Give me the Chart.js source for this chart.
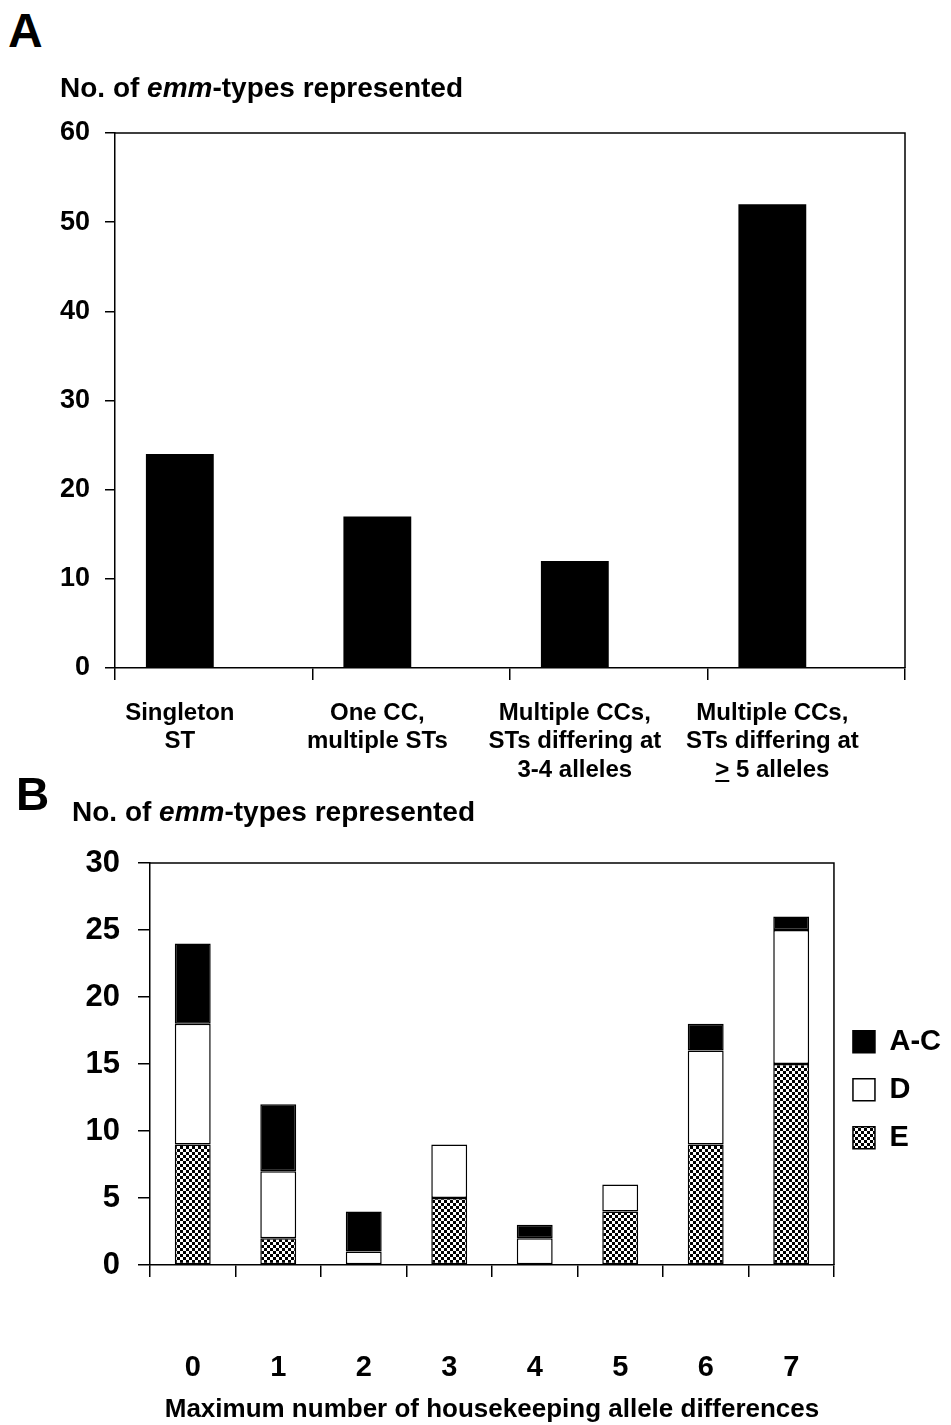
<!DOCTYPE html>
<html>
<head>
<meta charset="utf-8">
<script src="https://cdn.jsdelivr.net/npm/chart.js@4.4.1/dist/chart.umd.min.js"></script>
<style>
  body { margin: 0; background: #fff; width: 951px; height: 1425px; position: relative; overflow: hidden;
         font-family: "Liberation Sans", Arial, sans-serif; }
  .txt { position: absolute; font-weight: bold; color: #000; white-space: nowrap; }
  #wrapA { position: absolute; left: 0; top: 100px; width: 951px; height: 690px; }
  #wrapB { position: absolute; left: 0; top: 780px; width: 951px; height: 645px; }
</style>
</head>
<body>
<div id="wrapA"><canvas id="chartA" width="951" height="690"></canvas></div>
<div id="wrapB"><canvas id="chartB" width="951" height="645"></canvas></div>
<div class="txt" style="left:8px; top:7px; font-size:48px; line-height:48px;">A</div>
<div class="txt" style="left:60px; top:74px; font-size:28px; line-height:28px;">No. of <i>emm</i>-types represented</div>
<div class="txt" style="left:16px; top:771px; font-size:46px; line-height:46px;">B</div>
<div class="txt" style="left:72px; top:798px; font-size:28px; line-height:28px;">No. of <i>emm</i>-types represented</div>
<script>
// Panel A
var categoriesA = [
  ['Singleton', 'ST'],
  ['One CC,', 'multiple STs'],
  ['Multiple CCs,', 'STs differing at', '3-4 alleles'],
  ['Multiple CCs,', 'STs differing at', '> 5 alleles']
]
var valuesA = [24, 17, 12, 52]
var spacerA = [null, null, null, null]   // empty second series, as in the original sheet
var ticksA = { min: 0, max: 60, step: 10 }

// Panel B
var categoriesB = ['0', '1', '2', '3', '4', '5', '6', '7']
var valuesE = [9, 2, 0, 5, 0, 4, 9, 15]
var valuesD = [9, 5, 1, 4, 2, 2, 7, 10]
var valuesAC = [6, 5, 3, 0, 1, 0, 2, 1]
var ticksB = { min: 0, max: 30, step: 5 }
var xTitleB = 'Maximum number of housekeeping allele differences'

var FONT = '"Liberation Sans", Arial, sans-serif'

function checker(){
  var c = document.createElement('canvas')
  c.width = 6; c.height = 6
  var g = c.getContext('2d')
  g.fillStyle = '#fff'; g.fillRect(0, 0, 6, 6)
  g.fillStyle = '#000'; g.fillRect(0, 0, 3, 3); g.fillRect(3, 3, 3, 3)
  return g.createPattern(c, 'repeat')
}

// top + right lines of the plot box
var frame = {
  id: 'frame',
  afterDraw(chart){
    var a = chart.chartArea, ctx = chart.ctx
    ctx.save()
    ctx.strokeStyle = '#000'
    ctx.lineWidth = 1.5
    ctx.beginPath()
    ctx.moveTo(a.left, a.top)
    ctx.lineTo(a.right, a.top)
    ctx.lineTo(a.right, a.bottom)
    ctx.stroke()
    ctx.restore()
  }
}

// category labels of panel A sit under the bars, not under the category centre
var barLabels = {
  id: 'barLabels',
  afterDraw(chart){
    var meta = chart.getDatasetMeta(0), ctx = chart.ctx
    var y0 = chart.chartArea.bottom
    ctx.save()
    ctx.font = 'bold 24px ' + FONT
    ctx.fillStyle = '#000'
    ctx.textAlign = 'center'
    ctx.textBaseline = 'middle'
    categoriesA.forEach((lines, i) => {
      var x = meta.data[i].x
      lines.forEach((t, j) => {
        var y = y0 + 45 + j * 28.5
        ctx.fillText(t, x, y)
        if (t.charAt(0) == '>'){
          var left = x - ctx.measureText(t).width / 2
          var w = ctx.measureText('>').width
          ctx.lineWidth = 2
          ctx.beginPath()
          ctx.moveTo(left, y + 11)
          ctx.lineTo(left + w, y + 11)
          ctx.stroke()
        }
      })
    })
    ctx.restore()
  }
}

var chartA = new Chart(document.getElementById('chartA'), {
  type: 'bar',
  data: {
    labels: categoriesA,
    datasets: [
      { data: valuesA, backgroundColor: '#000', borderWidth: 0 },
      { data: spacerA, backgroundColor: '#000', borderWidth: 0 }
    ]
  },
  options: {
    responsive: false,
    animation: false,
    layout: { padding: { top: 33, right: 46, left: 0, bottom: 0 } },
    datasets: { bar: { categoryPercentage: 0.687, barPercentage: 1 } },
    plugins: { legend: { display: false }, tooltip: { enabled: false } },
    scales: {
      x: {
        afterFit: (s) => { s.height = 122 },
        grid: { drawOnChartArea: false, color: '#000', lineWidth: 1.5, tickLength: 12 },
        border: { color: '#000', width: 1.5 },
        ticks: { display: false }
      },
      y: {
        min: ticksA.min,
        max: ticksA.max,
        afterFit: (s) => { s.width = 115 },
        grid: { drawOnChartArea: false, color: '#000', lineWidth: 1.5, tickLength: 10 },
        border: { color: '#000', width: 1.5 },
        ticks: { stepSize: ticksA.step, padding: 15, color: '#000', font: { family: FONT, size: 27, weight: 'bold' } }
      }
    }
  },
  plugins: [frame, barLabels]
})

var chartB = new Chart(document.getElementById('chartB'), {
  type: 'bar',
  data: {
    labels: categoriesB,
    datasets: [
      { label: 'E', data: valuesE, backgroundColor: checker(), borderColor: '#000', borderWidth: 1.5 },
      { label: 'D', data: valuesD, backgroundColor: '#fff', borderColor: '#000', borderWidth: 1.5 },
      { label: 'A-C', data: valuesAC, backgroundColor: '#000', borderColor: '#000', borderWidth: 1.5 }
    ]
  },
  options: {
    responsive: false,
    animation: false,
    layout: { padding: { top: 83, right: 0, left: 0, bottom: 0 } },
    datasets: { bar: { categoryPercentage: 1, barPercentage: 0.42, borderSkipped: false } },
    plugins: {
      tooltip: { enabled: false },
      legend: {
        position: 'right',
        align: 'start',
        fullSize: false,
        reverse: true,
        title: { display: true, text: ' ', font: { size: 1 }, padding: { top: 144, bottom: 0 } },
        labels: {
          boxWidth: 22,
          boxHeight: 22,
          padding: 19,
          color: '#000',
          font: { family: FONT, size: 29, weight: 'bold' }
        }
      }
    },
    scales: {
      x: {
        stacked: true,
        afterFit: (s) => { s.height = 160 },
        grid: { drawOnChartArea: false, color: '#000', lineWidth: 1.5, tickLength: 12 },
        border: { color: '#000', width: 1.5 },
        ticks: { padding: 74, color: '#000', font: { family: FONT, size: 29, weight: 'bold' } },
        title: { display: true, text: xTitleB, color: '#000', padding: 0, font: { family: FONT, size: 26, weight: 'bold' } }
      },
      y: {
        stacked: true,
        min: ticksB.min,
        max: ticksB.max,
        afterFit: (s) => { s.width = 150 },
        grid: { drawOnChartArea: false, color: '#000', lineWidth: 1.5, tickLength: 12 },
        border: { color: '#000', width: 1.5 },
        ticks: { stepSize: ticksB.step, padding: 18, color: '#000', font: { family: FONT, size: 31, weight: 'bold' } }
      }
    }
  },
  plugins: [frame]
})
</script>
</body>
</html>
